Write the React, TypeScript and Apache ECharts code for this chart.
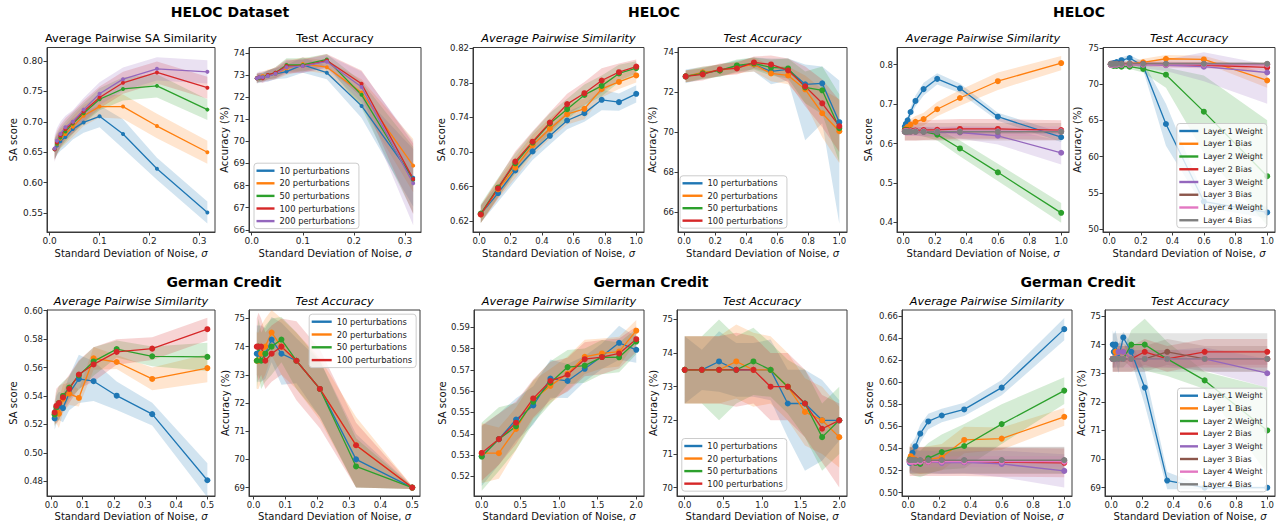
import React, { useEffect, useRef } from "react";
import * as echarts from "echarts";

const FONT = "DejaVu Sans";
const AX = "#3a3a3a";
const TXT = "#111111";
const COLORS = ["#1f77b4", "#ff7f0e", "#2ca02c", "#d62728", "#9467bd", "#8c564b", "#e377c2", "#7f7f7f"];

const perturbationNames = ["10 perturbations", "20 perturbations", "50 perturbations", "100 perturbations", "200 perturbations"];
const layerNames = ["Layer 1 Weight", "Layer 1 Bias", "Layer 2 Weight", "Layer 2 Bias", "Layer 3 Weight", "Layer 3 Bias", "Layer 4 Weight", "Layer 4 Bias"];

// noise levels (x values)
const xHelocSweep = [0.01, 0.0147, 0.0215, 0.0316, 0.0464, 0.0681, 0.1, 0.147, 0.215, 0.316];
const xLinear1 = [0.01, 0.12, 0.23, 0.34, 0.45, 0.56, 0.67, 0.78, 0.89, 1.0];
const xLog1 = [0.01, 0.0167, 0.0278, 0.0464, 0.0774, 0.129, 0.215, 0.359, 0.599, 1.0];
const xGermanSweep = [0.01, 0.0154, 0.0238, 0.0368, 0.0568, 0.0877, 0.135, 0.209, 0.323, 0.5];
const xLinear2 = [0, 0.222, 0.444, 0.667, 0.889, 1.111, 1.333, 1.556, 1.778, 2.0];

// tick labels
const ticksX03 = [0, 0.1, 0.2, 0.3];
const ticksX10 = [0, 0.2, 0.4, 0.6, 0.8, 1.0];
const ticksX05 = [0, 0.1, 0.2, 0.3, 0.4, 0.5];
const ticksX20 = [0, 0.5, 1.0, 1.5, 2.0];
const p1YTicks = [0.55, 0.6, 0.65, 0.7, 0.75, 0.8];
const p2YTicks = [66, 67, 68, 69, 70, 71, 72, 73, 74];
const p3YTicks = [0.62, 0.66, 0.7, 0.74, 0.78, 0.82];
const p4YTicks = [66, 68, 70, 72, 74];
const p5YTicks = [0.4, 0.5, 0.6, 0.7, 0.8];
const p6YTicks = [50, 55, 60, 65, 70, 75];
const p7YTicks = [0.48, 0.5, 0.52, 0.54, 0.56, 0.58, 0.6];
const p8YTicks = [69, 70, 71, 72, 73, 74, 75];
const p9YTicks = [0.52, 0.53, 0.54, 0.55, 0.56, 0.57, 0.58, 0.59];
const p10YTicks = [70, 71, 72, 73, 74, 75];
const p11YTicks = [0.5, 0.52, 0.54, 0.56, 0.58, 0.6, 0.62, 0.64, 0.66];
const p12YTicks = [69, 70, 71, 72, 73, 74, 75];

type Spread = number | [number, number];

// Panel 1: HELOC Dataset, Average Pairwise SA Similarity
const p1Mean = [
  [0.655, 0.661, 0.668, 0.675, 0.688, 0.699, 0.709, 0.68, 0.623, 0.551],
  [0.655, 0.663, 0.672, 0.68, 0.692, 0.71, 0.725, 0.725, 0.693, 0.65],
  [0.655, 0.664, 0.674, 0.684, 0.697, 0.714, 0.737, 0.754, 0.759, 0.72],
  [0.655, 0.666, 0.677, 0.688, 0.699, 0.717, 0.74, 0.764, 0.781, 0.756],
  [0.656, 0.669, 0.68, 0.691, 0.7, 0.72, 0.746, 0.77, 0.787, 0.782],
];
const p1Spread: Spread[][] = [
  [0.016, 0.016, 0.016, 0.016, 0.017, 0.017, 0.018, 0.024, 0.018, 0.018],
  [0.016, 0.016, 0.016, 0.016, 0.017, 0.017, 0.018, 0.02, 0.02, 0.019],
  [0.017, 0.017, 0.017, 0.017, 0.017, 0.017, 0.018, 0.019, 0.019, 0.017],
  [0.019, 0.019, 0.018, 0.018, 0.018, 0.018, 0.018, 0.018, 0.018, 0.018],
  [0.022, 0.021, 0.02, 0.019, 0.019, 0.019, 0.019, 0.019, 0.019, 0.019],
];

// Panel 2: HELOC Dataset, Test Accuracy
const p2Mean = [
  [72.85, 72.88, 72.9, 72.95, 73.05, 73.15, 73.45, 73.1, 71.6, 68.35],
  [72.85, 72.9, 72.95, 73.0, 73.05, 73.3, 73.5, 73.35, 72.2, 68.9],
  [72.85, 72.85, 72.9, 73.0, 73.1, 73.45, 73.45, 73.7, 72.1, 68.25],
  [72.85, 72.9, 72.85, 73.0, 73.1, 73.4, 73.4, 73.65, 72.6, 68.3],
  [72.85, 72.9, 72.9, 72.95, 73.05, 73.35, 73.4, 73.6, 72.45, 68.1],
];
const p2Spread: Spread[][] = [
  [0.2, 0.2, 0.2, 0.25, 0.25, 0.3, 0.35, 0.3, 0.55, 1.3],
  [0.2, 0.2, 0.2, 0.25, 0.25, 0.3, 0.3, 0.3, 0.6, 1.2],
  [0.2, 0.2, 0.2, 0.2, 0.25, 0.3, 0.3, 0.25, 0.6, 1.5],
  [0.2, 0.2, 0.2, 0.2, 0.25, 0.3, 0.3, 0.3, 0.6, 1.6],
  [0.25, 0.25, 0.25, 0.25, 0.25, 0.3, 0.3, 0.3, 0.7, 1.9],
];

// Panel 3: HELOC, Average Pairwise Similarity
const p3Mean = [
  [0.6285, 0.6527, 0.6788, 0.7008, 0.7188, 0.7365, 0.745, 0.7604, 0.7577, 0.7673],
  [0.628, 0.657, 0.682, 0.708, 0.727, 0.7438, 0.75, 0.773, 0.781, 0.7885],
  [0.629, 0.659, 0.687, 0.711, 0.733, 0.7496, 0.766, 0.7765, 0.7908, 0.797],
  [0.628, 0.658, 0.689, 0.712, 0.734, 0.7554, 0.768, 0.7827, 0.7923, 0.7988],
];
const p3Spread: Spread[][] = [
  [0.01, 0.01, 0.012, 0.01, 0.01, 0.01, 0.01, 0.012, 0.01, 0.01],
  [0.01, 0.011, 0.012, 0.012, 0.012, 0.012, 0.012, 0.01, 0.008, 0.008],
  [0.011, 0.011, 0.012, 0.012, 0.012, 0.012, 0.012, 0.012, 0.01, 0.008],
  [0.01, 0.011, 0.012, 0.012, 0.012, 0.012, 0.013, 0.014, 0.01, 0.008],
];

// Panel 4: HELOC, Test Accuracy
const p4Mean = [
  [72.8, 72.98, 73.1, 73.3, 73.4, 73.05, 73.15, 72.4, 72.45, 70.5],
  [72.8, 73.0, 73.1, 73.25, 73.4, 72.95, 72.85, 72.15, 70.95, 70.05],
  [72.8, 72.95, 73.1, 73.35, 73.45, 73.25, 73.2, 72.25, 72.1, 70.2],
  [72.8, 72.9, 73.15, 73.2, 73.5, 73.4, 73.1, 72.3, 71.45, 70.3],
];
const p4Spread: Spread[][] = [
  [0.35, 0.3, 0.3, 0.3, 0.35, 0.65, 0.55, [2.8, 1.0], [2.0, 0.85], [5.1, 2.1]],
  [0.3, 0.3, 0.3, 0.3, 0.35, 0.4, 0.45, 0.7, 1.2, 1.6],
  [0.3, 0.3, 0.3, 0.3, 0.3, 0.4, 0.5, 0.8, 1.2, 1.7],
  [0.3, 0.3, 0.3, 0.3, 0.3, 0.45, 0.6, 1.0, 1.2, 1.3],
];

// Panel 5: HELOC per layer, Average Pairwise Similarity
const p5Mean = [
  [0.643, 0.65, 0.659, 0.68, 0.708, 0.738, 0.764, 0.74, 0.668, 0.616],
  [0.635, 0.638, 0.642, 0.648, 0.655, 0.662, 0.687, 0.7155, 0.758, 0.804],
  [0.635, 0.635, 0.634, 0.633, 0.632, 0.63, 0.6226, 0.5875, 0.527, 0.4243],
  [0.633, 0.633, 0.633, 0.633, 0.633, 0.634, 0.635, 0.637, 0.637, 0.634],
  [0.63, 0.63, 0.63, 0.63, 0.63, 0.63, 0.629, 0.628, 0.6197, 0.5766],
  [0.63, 0.63, 0.63, 0.63, 0.63, 0.63, 0.63, 0.63, 0.63, 0.63],
  [0.631, 0.631, 0.631, 0.631, 0.631, 0.631, 0.631, 0.631, 0.631, 0.631],
  [0.63, 0.63, 0.63, 0.63, 0.63, 0.63, 0.63, 0.63, 0.63, 0.63],
];
const p5Spread: Spread[][] = [
  [0.008, 0.008, 0.01, 0.012, 0.014, 0.016, 0.014, 0.012, 0.01, 0.012],
  [0.012, 0.012, 0.013, 0.014, 0.015, 0.016, 0.018, 0.02, 0.022, 0.018],
  [0.01, 0.01, 0.01, 0.01, 0.01, 0.012, 0.015, 0.02, 0.022, 0.025],
  [0.025, 0.025, 0.025, 0.025, 0.025, 0.025, 0.025, 0.025, 0.025, 0.025],
  [0.01, 0.01, 0.01, 0.01, 0.01, 0.012, 0.012, 0.015, 0.022, 0.03],
  [0.022, 0.022, 0.022, 0.022, 0.022, 0.022, 0.022, 0.022, 0.022, 0.022],
  [0.012, 0.012, 0.012, 0.012, 0.012, 0.012, 0.012, 0.012, 0.012, 0.012],
  [0.006, 0.006, 0.006, 0.006, 0.006, 0.006, 0.006, 0.006, 0.006, 0.006],
];

// Panel 6: HELOC per layer, Test Accuracy
const p6Mean = [
  [72.7, 72.8, 72.9, 73.05, 73.3, 73.6, 72.5, 64.5, 53.8, 52.3],
  [72.7, 72.7, 72.7, 72.7, 72.7, 72.8, 73.0, 73.5, 73.4, 70.5],
  [72.7, 72.6, 72.5, 72.5, 72.4, 72.4, 72.1, 71.3, 66.2, 57.3],
  [72.8, 72.8, 72.8, 72.8, 72.8, 72.8, 72.8, 72.7, 72.6, 72.3],
  [72.7, 72.7, 72.7, 72.7, 72.7, 72.7, 72.7, 72.6, 72.4, 71.6],
  [72.75, 72.75, 72.75, 72.75, 72.75, 72.75, 72.75, 72.75, 72.75, 72.75],
  [72.7, 72.7, 72.7, 72.7, 72.7, 72.7, 72.7, 72.7, 72.7, 72.7],
  [72.8, 72.8, 72.8, 72.8, 72.8, 72.8, 72.8, 72.8, 72.8, 72.8],
];
const p6Spread: Spread[][] = [
  [0.3, 0.3, 0.3, 0.35, 0.4, 0.4, 0.6, [3.0, 2.8], 0.8, 0.8],
  [0.4, 0.4, 0.4, 0.4, 0.4, 0.4, 0.5, 0.5, 0.5, 1.0],
  [0.3, 0.3, 0.3, 0.3, 0.3, 0.3, 0.5, [1.8, 1.0], [5.7, 5.0], [6.8, 7.7]],
  [0.3, 0.3, 0.3, 0.3, 0.3, 0.3, 0.3, 0.4, 0.4, 0.5],
  [0.3, 0.3, 0.3, 0.3, 0.3, 0.4, 0.5, 0.8, 2.0, [4.3, 1.1]],
  [0.3, 0.3, 0.3, 0.3, 0.3, 0.3, 0.3, 0.3, 0.3, 0.3],
  [0.2, 0.2, 0.2, 0.2, 0.2, 0.2, 0.2, 0.2, 0.2, 0.2],
  [0.2, 0.2, 0.2, 0.2, 0.2, 0.2, 0.2, 0.2, 0.2, 0.2],
];

// Panel 7: German Credit, Average Pairwise Similarity
const p7Mean = [
  [0.5242, 0.53, 0.533, 0.5315, 0.542, 0.552, 0.5504, 0.5402, 0.5272, 0.4807],
  [0.527, 0.529, 0.5275, 0.538, 0.5417, 0.5386, 0.5665, 0.5639, 0.552, 0.5596],
  [0.527, 0.532, 0.535, 0.54, 0.5459, 0.5544, 0.5643, 0.573, 0.5679, 0.5675],
  [0.5284, 0.533, 0.535, 0.539, 0.545, 0.5551, 0.5622, 0.571, 0.5733, 0.587],
];
const p7Spread: Spread[][] = [
  [0.008, 0.01, 0.01, 0.01, 0.012, 0.017, 0.014, 0.01, 0.008, 0.012],
  [0.008, 0.008, 0.01, 0.01, 0.008, 0.006, 0.008, 0.005, 0.008, 0.01],
  [0.008, 0.01, 0.012, 0.01, 0.008, 0.01, 0.01, 0.006, 0.007, 0.01],
  [0.008, 0.012, 0.012, 0.01, 0.01, 0.01, 0.012, 0.009, 0.008, 0.008],
];

// Panel 8: German Credit, Test Accuracy
const p8Mean = [
  [73.75, 73.75, 73.75, 73.75, 74.25, 73.75, 73.5, 72.5, 70.0, 69.0],
  [73.5, 73.5, 73.75, 74.0, 74.5, 74.0, 73.5, 72.5, 70.5, 69.0],
  [73.5, 74.0, 73.5, 73.75, 74.0, 74.25, 73.5, 72.5, 69.75, 69.0],
  [74.0, 74.0, 74.0, 73.5, 73.75, 74.0, 73.5, 72.5, 70.5, 69.0],
];
const p8Spread: Spread[][] = [
  [1.0, 1.0, 1.0, 0.9, 0.8, 1.1, 0.8, 1.0, [1.0, 0.9], 0.05],
  [1.0, 1.0, 1.0, 1.0, 0.8, 1.0, 1.0, 1.1, [1.5, 1.0], 0.05],
  [1.0, 1.0, 1.0, 1.0, 1.0, 0.8, 1.0, 1.0, [0.75, 1.0], 0.05],
  [1.0, 1.2, 1.0, 1.0, 1.0, 1.0, 1.4, 1.4, [1.5, 0.8], 0.05],
];

// Panel 9: German Credit, Average Pairwise Similarity
const p9Mean = [
  [0.5295, 0.5375, 0.5467, 0.5533, 0.5659, 0.5648, 0.5705, 0.5764, 0.5827, 0.5794],
  [0.5309, 0.5309, 0.5423, 0.556, 0.5625, 0.5683, 0.5761, 0.5777, 0.5786, 0.5884],
  [0.5293, 0.5375, 0.5435, 0.555, 0.564, 0.5713, 0.572, 0.576, 0.5759, 0.5833],
  [0.531, 0.5375, 0.5452, 0.5566, 0.5648, 0.5677, 0.575, 0.576, 0.5777, 0.5844],
];
const p9Spread: Spread[][] = [
  [0.014, 0.012, 0.01, 0.009, 0.009, 0.008, 0.006, 0.006, 0.008, 0.006],
  [0.014, 0.012, 0.01, 0.009, 0.008, 0.008, 0.008, 0.007, 0.007, 0.005],
  [0.016, 0.015, 0.011, 0.01, 0.01, 0.008, 0.008, 0.008, 0.007, 0.006],
  [0.013, 0.012, 0.01, 0.009, 0.009, 0.008, 0.008, 0.008, 0.007, 0.006],
];

// Panel 10: German Credit, Test Accuracy
const p10Mean = [
  [73.5, 73.5, 73.75, 73.5, 73.5, 73.5, 72.5, 72.5, 72.0, 72.0],
  [73.5, 73.5, 73.5, 73.75, 73.5, 73.5, 73.0, 72.25, 72.0, 71.5],
  [73.5, 73.5, 73.5, 73.5, 73.75, 73.5, 73.0, 72.5, 71.5, 72.0],
  [73.5, 73.5, 73.5, 73.5, 73.5, 73.0, 73.0, 72.5, 71.75, 72.0],
];
const p10Spread: Spread[][] = [
  [1.0, 0.6, 0.9, 0.8, 0.8, 0.9, 1.0, [2.0, 1.0], 1.2, 0.6],
  [1.0, 1.0, 1.0, 1.1, 1.1, 1.0, 1.0, 1.0, 1.0, 0.9],
  [1.0, 1.0, 1.5, 1.0, 1.0, 0.8, 0.8, 1.0, 1.0, 1.0],
  [1.0, 1.0, 1.0, 1.1, 1.0, 1.0, 1.0, 1.0, 1.0, [2.0, 0.5]],
];

// Panel 11: German Credit per layer, Average Pairwise Similarity
const p11Mean = [
  [0.527, 0.532, 0.536, 0.5419, 0.5534, 0.5644, 0.5698, 0.5753, 0.595, 0.6479],
  [0.53, 0.533, 0.531, 0.53, 0.529, 0.53, 0.532, 0.5477, 0.5489, 0.5686],
  [0.53, 0.529, 0.528, 0.527, 0.526, 0.531, 0.5367, 0.5422, 0.562, 0.5923],
  [0.528, 0.528, 0.528, 0.528, 0.528, 0.528, 0.528, 0.528, 0.5275, 0.527],
  [0.528, 0.528, 0.528, 0.528, 0.528, 0.528, 0.527, 0.5275, 0.526, 0.5197],
  [0.529, 0.529, 0.529, 0.529, 0.529, 0.529, 0.529, 0.529, 0.529, 0.529],
  [0.528, 0.528, 0.528, 0.528, 0.528, 0.528, 0.528, 0.528, 0.528, 0.528],
  [0.5295, 0.5295, 0.5295, 0.5295, 0.5295, 0.5295, 0.5295, 0.5295, 0.5295, 0.5295],
];
const p11Spread: Spread[][] = [
  [0.008, 0.012, 0.01, 0.008, 0.008, 0.007, 0.006, 0.006, 0.007, 0.01],
  [0.012, 0.012, 0.012, 0.012, 0.012, 0.012, 0.012, 0.012, 0.01, 0.008],
  [0.012, 0.012, 0.012, 0.012, 0.012, 0.014, 0.016, 0.02, 0.018, 0.012],
  [0.013, 0.013, 0.013, 0.013, 0.013, 0.013, 0.013, 0.013, 0.013, 0.013],
  [0.01, 0.01, 0.01, 0.01, 0.01, 0.01, 0.01, 0.01, 0.012, 0.015],
  [0.012, 0.012, 0.012, 0.012, 0.012, 0.012, 0.012, 0.012, 0.012, 0.012],
  [0.005, 0.005, 0.005, 0.005, 0.005, 0.005, 0.005, 0.005, 0.005, 0.005],
  [0.012, 0.012, 0.012, 0.012, 0.012, 0.012, 0.012, 0.012, 0.012, 0.012],
];

// Panel 12: German Credit per layer, Test Accuracy
const p12Mean = [
  [74.0, 73.75, 74.0, 73.5, 74.25, 73.75, 72.5, 69.25, 69.0, 69.0],
  [73.5, 73.5, 73.75, 73.75, 73.75, 73.5, 73.5, 73.5, 73.5, 73.5],
  [73.5, 73.5, 73.5, 73.5, 73.5, 74.0, 74.0, 73.5, 72.75, 71.0],
  [73.5, 73.5, 73.5, 73.5, 73.5, 73.5, 73.75, 73.5, 73.75, 73.75],
  [73.5, 73.5, 73.5, 73.75, 73.75, 73.5, 73.5, 73.5, 73.5, 73.0],
  [73.5, 73.5, 73.5, 73.5, 73.5, 73.5, 73.5, 73.75, 73.5, 73.5],
  [73.5, 73.5, 73.5, 73.5, 73.5, 73.5, 73.5, 73.5, 73.5, 73.5],
  [73.5, 73.5, 73.5, 73.5, 73.5, 73.5, 73.5, 73.5, 73.5, 73.5],
];
const p12Spread: Spread[][] = [
  [0.5, 0.6, 0.5, 0.5, 0.2, 0.3, 0.6, 0.3, 0.05, 0.05],
  [0.3, 0.3, 0.3, 0.3, 0.3, 0.3, 0.3, 0.3, 0.3, 0.3],
  [0.3, 0.3, 0.3, 0.3, 0.3, 0.5, [0.9, 0.9], 0.6, 0.3, 1.5],
  [0.45, 0.45, 0.45, 0.45, 0.45, 0.45, 0.45, 0.45, 0.45, 0.45],
  [0.3, 0.3, 0.3, 0.3, 0.3, 0.3, 0.3, 0.3, 0.4, 0.5],
  [0.45, 0.45, 0.45, 0.45, 0.45, 0.45, 0.45, 0.45, 0.45, 0.45],
  [0.3, 0.3, 0.3, 0.3, 0.3, 0.3, 0.3, 0.3, 0.3, 0.3],
  [[0.45, 0.9], [0.45, 0.9], [0.45, 0.9], [0.45, 0.9], [0.45, 0.9], [0.45, 0.9], [0.45, 0.9], [0.45, 0.9], [0.45, 0.9], [0.45, 0.9]],
];

type LegendCfg = { left: number; top: number; gap: number; itemWidth: number; fontSize: number };
type Panel = {
  left: number; right: number; top: number; bottom: number;
  xs: number[]; mean: number[][]; spread: Spread[][]; names: string[];
  xMin: number; xMax: number; yMin: number; yMax: number;
  xTicks: number[]; yTicks: number[]; xDec: number; yDec: number;
  title: string; italic: boolean; yName: string; yNameGap: number; xNameGap: number;
  symbolSize: number; tickFont: number; legend?: LegendCfg;
};

const R1T = 47.5, R1B = 232, R2T = 310, R2B = 496;
const XN = "Standard Deviation of Noise, {i|σ}";

const panels: Panel[] = [
  { left: 47, right: 215, top: R1T, bottom: R1B, xs: xHelocSweep, mean: p1Mean, spread: p1Spread, names: perturbationNames,
    xMin: -0.0053, xMax: 0.3313, yMin: 0.519, yMax: 0.822, xTicks: ticksX03, yTicks: p1YTicks, xDec: 1, yDec: 2,
    title: "Average Pairwise SA Similarity", italic: false, yName: "SA score", yNameGap: 29, xNameGap: 16, symbolSize: 4, tickFont: 9 },
  { left: 249, right: 421, top: R1T, bottom: R1B, xs: xHelocSweep, mean: p2Mean, spread: p2Spread, names: perturbationNames,
    xMin: -0.0053, xMax: 0.3313, yMin: 65.9, yMax: 74.24, xTicks: ticksX03, yTicks: p2YTicks, xDec: 1, yDec: 0,
    title: "Test Accuracy", italic: false, yName: "Accuracy (%)", yNameGap: 19.5, xNameGap: 16, symbolSize: 4, tickFont: 9,
    legend: { left: 254, top: 163.2, gap: 3.6, itemWidth: 18, fontSize: 8.4 } },
  { left: 473, right: 644, top: R1T, bottom: R1B, xs: xLinear1, mean: p3Mean, spread: p3Spread, names: perturbationNames.slice(0, 4),
    xMin: -0.0395, xMax: 1.0495, yMin: 0.6077, yMax: 0.8208, xTicks: ticksX10, yTicks: p3YTicks, xDec: 1, yDec: 2,
    title: "Average Pairwise Similarity", italic: true, yName: "SA score", yNameGap: 26, xNameGap: 16, symbolSize: 6, tickFont: 8.5 },
  { left: 678, right: 847, top: R1T, bottom: R1B, xs: xLinear1, mean: p4Mean, spread: p4Spread, names: perturbationNames.slice(0, 4),
    xMin: -0.0395, xMax: 1.0495, yMin: 64.99, yMax: 74.25, xTicks: ticksX10, yTicks: p4YTicks, xDec: 1, yDec: 0,
    title: "Test Accuracy", italic: true, yName: "Accuracy (%)", yNameGap: 21, xNameGap: 16, symbolSize: 6, tickFont: 8.5,
    legend: { left: 680, top: 175.8, gap: 3.45, itemWidth: 20, fontSize: 8.4 } },
  { left: 897, right: 1069, top: R1T, bottom: R1B, xs: xLog1, mean: p5Mean, spread: p5Spread, names: layerNames,
    xMin: -0.0395, xMax: 1.0495, yMin: 0.3757, yMax: 0.8435, xTicks: ticksX10, yTicks: p5YTicks, xDec: 1, yDec: 1,
    title: "Average Pairwise Similarity", italic: true, yName: "SA score", yNameGap: 24, xNameGap: 16, symbolSize: 6, tickFont: 8.5 },
  { left: 1103, right: 1275, top: R1T, bottom: R1B, xs: xLog1, mean: p6Mean, spread: p6Spread, names: layerNames,
    xMin: -0.0395, xMax: 1.0495, yMin: 49.6, yMax: 75.05, xTicks: ticksX10, yTicks: p6YTicks, xDec: 1, yDec: 0,
    title: "Test Accuracy", italic: true, yName: "Accuracy (%)", yNameGap: 21, xNameGap: 16, symbolSize: 6, tickFont: 8.5,
    legend: { left: 1176.8, top: 123.5, gap: 3.75, itemWidth: 19, fontSize: 7.9 } },
  { left: 47, right: 215, top: R2T, bottom: R2B, xs: xGermanSweep, mean: p7Mean, spread: p7Spread, names: perturbationNames.slice(0, 4),
    xMin: -0.0145, xMax: 0.5245, yMin: 0.4696, yMax: 0.6005, xTicks: ticksX05, yTicks: p7YTicks, xDec: 1, yDec: 2,
    title: "Average Pairwise Similarity", italic: true, yName: "SA score", yNameGap: 29, xNameGap: 15, symbolSize: 6, tickFont: 8.5 },
  { left: 249, right: 420, top: R2T, bottom: R2B, xs: xGermanSweep, mean: p8Mean, spread: p8Spread, names: perturbationNames.slice(0, 4),
    xMin: -0.0145, xMax: 0.5245, yMin: 68.7, yMax: 75.3, xTicks: ticksX05, yTicks: p8YTicks, xDec: 1, yDec: 0,
    title: "Test Accuracy", italic: true, yName: "Accuracy (%)", yNameGap: 19, xNameGap: 15, symbolSize: 6, tickFont: 8.5,
    legend: { left: 309.2, top: 314.2, gap: 3.8, itemWidth: 20, fontSize: 8.4 } },
  { left: 474, right: 644, top: R2T, bottom: R2B, xs: xLinear2, mean: p9Mean, spread: p9Spread, names: perturbationNames.slice(0, 4),
    xMin: -0.1, xMax: 2.1, yMin: 0.5108, yMax: 0.5981, xTicks: ticksX20, yTicks: p9YTicks, xDec: 1, yDec: 2,
    title: "Average Pairwise Similarity", italic: true, yName: "SA score", yNameGap: 27, xNameGap: 15, symbolSize: 6, tickFont: 8.5 },
  { left: 677, right: 847, top: R2T, bottom: R2B, xs: xLinear2, mean: p10Mean, spread: p10Spread, names: perturbationNames.slice(0, 4),
    xMin: -0.1, xMax: 2.1, yMin: 69.75, yMax: 75.28, xTicks: ticksX20, yTicks: p10YTicks, xDec: 1, yDec: 0,
    title: "Test Accuracy", italic: true, yName: "Accuracy (%)", yNameGap: 19, xNameGap: 15, symbolSize: 6, tickFont: 8.5,
    legend: { left: 681.8, top: 438.5, gap: 3.55, itemWidth: 18, fontSize: 8.4 } },
  { left: 902, right: 1072, top: R2T, bottom: R2B, xs: xLog1, mean: p11Mean, spread: p11Spread, names: layerNames,
    xMin: -0.0395, xMax: 1.0495, yMin: 0.497, yMax: 0.6652, xTicks: ticksX10, yTicks: p11YTicks, xDec: 1, yDec: 2,
    title: "Average Pairwise Similarity", italic: true, yName: "SA score", yNameGap: 28, xNameGap: 15, symbolSize: 6, tickFont: 8.5 },
  { left: 1105, right: 1275, top: R2T, bottom: R2B, xs: xLog1, mean: p12Mean, spread: p12Spread, names: layerNames,
    xMin: -0.0395, xMax: 1.0495, yMin: 68.71, yMax: 75.21, xTicks: ticksX10, yTicks: p12YTicks, xDec: 1, yDec: 0,
    title: "Test Accuracy", italic: true, yName: "Accuracy (%)", yNameGap: 19, xNameGap: 15, symbolSize: 6, tickFont: 8.5,
    legend: { left: 1177.5, top: 388.2, gap: 3.66, itemWidth: 18, fontSize: 7.9 } },
];

const datasetTitles = [
  { text: "HELOC Dataset", x: 230, y: 12 },
  { text: "HELOC", x: 654, y: 12 },
  { text: "HELOC", x: 1079, y: 12 },
  { text: "German Credit", x: 224, y: 281.5 },
  { text: "German Credit", x: 651, y: 281.5 },
  { text: "German Credit", x: 1078, y: 281.5 },
];

function hexToRgba(hex: string, a: number) {
  const n = parseInt(hex.slice(1), 16);
  return `rgba(${(n >> 16) & 255},${(n >> 8) & 255},${n & 255},${a})`;
}

function textEl(text: string, x: number, y: number, size: number, weight: string, style: string) {
  return {
    type: "text", x, y, silent: true,
    style: {
      text, fill: "#000", fontSize: size, fontWeight: weight, fontStyle: style, fontFamily: FONT,
      align: "center", verticalAlign: "middle", textAlign: "center", textVerticalAlign: "middle",
    },
  };
}

function buildOption() {
  const grid: any[] = [], xAxis: any[] = [], yAxis: any[] = [], series: any[] = [], legend: any[] = [], elements: any[] = [];
  panels.forEach((p, i) => {
    grid.push({ left: p.left, top: p.top, width: p.right - p.left, height: p.bottom - p.top, show: true,
      borderColor: AX, borderWidth: 1, backgroundColor: "transparent", containLabel: false, outerBoundsMode: "none" });
    const lineStyle = { color: AX, width: 1 };
    xAxis.push({
      type: "value", gridIndex: i, min: p.xMin, max: p.xMax, splitLine: { show: false },
      axisLine: { show: true, onZero: false, lineStyle },
      axisTick: { show: true, length: 3.5, lineStyle, customValues: p.xTicks },
      axisLabel: { customValues: p.xTicks, formatter: (v: number) => v.toFixed(p.xDec), fontSize: p.tickFont, color: "#222", fontFamily: FONT, margin: 4.5 },
      name: XN, nameLocation: "middle", nameGap: p.xNameGap,
      nameTextStyle: { fontSize: 10, fontFamily: FONT, color: TXT, rich: { i: { fontSize: 10, fontFamily: FONT, color: TXT, fontStyle: "italic" } } },
    });
    yAxis.push({
      type: "value", gridIndex: i, min: p.yMin, max: p.yMax, splitLine: { show: false },
      axisLine: { show: true, onZero: false, lineStyle },
      axisTick: { show: true, length: 3.5, lineStyle, customValues: p.yTicks },
      axisLabel: { customValues: p.yTicks, formatter: (v: number) => v.toFixed(p.yDec), fontSize: p.tickFont, color: "#222", fontFamily: FONT, margin: 4 },
      name: p.yName, nameLocation: "middle", nameGap: p.yNameGap,
      nameTextStyle: { fontSize: 10, fontFamily: FONT, color: TXT },
    });
    p.names.forEach((name, k) => {
      const color = COLORS[k];
      const mean = p.mean[k];
      const spr = p.spread[k];
      const lo = mean.map((m, j) => { const s = spr[j]; return m - (Array.isArray(s) ? s[0] : s); });
      const hi = mean.map((m, j) => { const s = spr[j]; return m + (Array.isArray(s) ? s[1] : s); });
      const xs = p.xs;
      series.push({
        type: "custom", name: `${name} band ${i}`, xAxisIndex: i, yAxisIndex: i, silent: true, z: 1, clip: true,
        data: [[xs[0], mean[0]]],
        renderItem: (_params: any, api: any) => {
          const up = xs.map((xv, j) => api.coord([xv, hi[j]]));
          const dn = xs.map((xv, j) => api.coord([xv, lo[j]])).reverse();
          return { type: "polygon", shape: { points: up.concat(dn) }, style: { fill: hexToRgba(color, 0.2), stroke: "none" }, silent: true };
        },
      });
    });
    p.names.forEach((name, k) => {
      const color = COLORS[k];
      series.push({
        type: "line", name, xAxisIndex: i, yAxisIndex: i, z: 3, silent: true, clip: true,
        data: p.xs.map((xv, j) => [xv, p.mean[k][j]]),
        symbol: "circle", symbolSize: p.symbolSize, showSymbol: true, showAllSymbol: true,
        lineStyle: { color, width: 1.3 }, itemStyle: { color }, emphasis: { disabled: true },
      });
    });
    if (p.legend) {
      const L = p.legend;
      legend.push({
        show: true, orient: "vertical", left: L.left, top: L.top, itemGap: L.gap, itemWidth: L.itemWidth, itemHeight: 2.4,
        padding: [3, 4, 3, 2.5], selectedMode: false, backgroundColor: "rgba(255,255,255,0.8)",
        borderColor: "#cccccc", borderWidth: 1, borderRadius: 3,
        textStyle: { fontSize: L.fontSize, fontFamily: FONT, color: "#222", lineHeight: 9 },
        data: p.names.map((n, k) => ({ name: n, icon: "rect", itemStyle: { color: COLORS[k] } })),
      });
    }
    const cx = (p.left + p.right) / 2;
    const ty = p.top < 100 ? 38 : 301;
    elements.push(textEl(p.title, cx, ty, 11.3, "normal", p.italic ? "italic" : "normal"));
  });
  datasetTitles.forEach((t) => elements.push(textEl(t.text, t.x, t.y, 14, "bold", "normal")));
  return {
    animation: false,
    backgroundColor: "#ffffff",
    textStyle: { fontFamily: FONT },
    grid, xAxis, yAxis, series, legend,
    graphic: { elements },
  };
}

export default function App() {
  const ref = useRef<HTMLDivElement>(null);
  useEffect(() => {
    if (!ref.current) return;
    const chart = echarts.init(ref.current, undefined, { renderer: "svg" });
    chart.setOption(buildOption() as any);
    return () => chart.dispose();
  }, []);
  return <div ref={ref} style={{ position: "fixed", left: 0, top: 0, width: 1279, height: 525, background: "#fff" }} />;
}
